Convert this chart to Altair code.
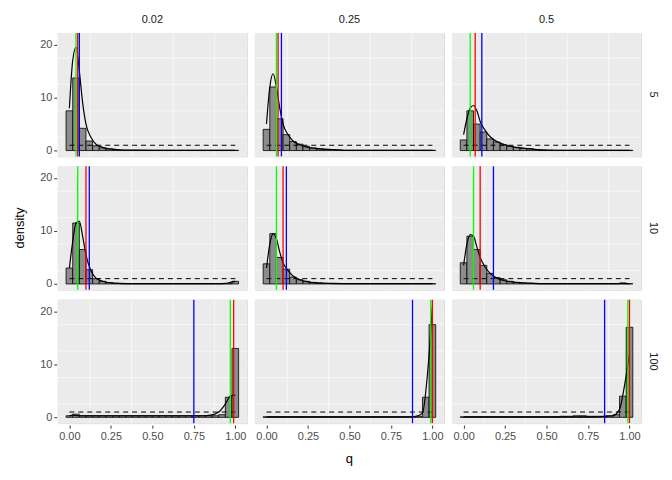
import altair as alt
import pandas as pd

cols = [0.02, 0.25, 0.5]
rows = [5, 10, 100]
centers = [round(i * 0.04, 2) for i in range(26)]
t = [0.05] * 18
bars = {
    (0.02, 5): [7.5, 13.7, 4.2, 1.8, 0.9, 0.5, 0.3, 0.15] + t,
    (0.25, 5): [4, 12, 6, 3, 1.7, 1.2, 0.8, 0.5, 0.3, 0.2, 0.15, 0.1] + [0.05] * 14,
    (0.5, 5): [2, 7.5, 5, 3.5, 2.2, 1.6, 1.1, 0.8, 0.6, 0.4, 0.3, 0.2, 0.15, 0.1] + [0.05] * 12,
    (0.02, 10): [3, 11.5, 6.5, 2.7, 1.0, 0.5, 0.25, 0.1] + [0.05] * 17 + [0.5],
    (0.25, 10): [3.8, 9.5, 5, 2.8, 1.3, 0.8, 0.5, 0.3, 0.2, 0.1] + [0.05] * 16,
    (0.5, 10): [4, 9, 6.5, 3.5, 2, 1.2, 0.8, 0.5, 0.3, 0.2, 0.1] + [0.05] * 13 + [0.2, 0.05],
    (0.02, 100): [0.3, 0.6] + [0.3] * 21 + [0.5, 3.8, 13],
    (0.25, 100): [0.1] * 23 + [0.2, 3.8, 17.5],
    (0.5, 100): [0.1] * 15 + [0.2, 0.2, 0.3, 0.3, 0.2, 0.2, 0.2, 0.3, 0.5, 4, 17],
}
dx = [0, 0.02, 0.04, 0.06, 0.08, 0.1, 0.13, 0.16, 0.2, 0.25, 0.3, 0.4, 0.5, 0.6, 0.7, 0.8, 0.85, 0.9, 0.94, 0.97, 1.0]
s = [0.05] * 9
dens = {
    (0.02, 5): [8, 17, 19.5, 15, 9, 5, 2.5, 1.2, 0.6, 0.3, 0.15, 0.08] + s,
    (0.25, 5): [5, 12, 14.5, 12, 8, 5, 3, 1.8, 1.1, 0.6, 0.4, 0.2] + s,
    (0.5, 5): [3, 6, 8, 8.5, 7.5, 5.5, 3.8, 2.6, 1.7, 1.1, 0.7, 0.35] + s,
    (0.02, 10): [3, 8, 11.5, 11.8, 9, 5.5, 2.5, 1.1, 0.5, 0.2, 0.1, 0.05, 0.05, 0.05, 0.05, 0.05, 0.05, 0.05, 0.1, 0.3, 0.5],
    (0.25, 10): [3, 7.5, 9.5, 8.5, 6, 4, 2.5, 1.5, 0.8, 0.4, 0.2, 0.1] + s,
    (0.5, 10): [3.5, 7.5, 9.3, 9, 7, 5, 3.2, 2, 1.1, 0.6, 0.35, 0.15] + s,
    (0.02, 100): [0.3, 0.4, 0.35] + [0.3] * 13 + [0.4, 1.0, 2.5, 4.0, 4.2],
    (0.25, 100): [0.1] * 17 + [0.2, 0.8, 8, 21],
    (0.5, 100): [0.1] * 16 + [0.2, 0.3, 1.5, 6, 12],
}
vl = {
    (0.02, 5): [0.04, 0.05, 0.06], (0.25, 5): [0.06, 0.07, 0.09], (0.5, 5): [0.04, 0.07, 0.11],
    (0.02, 10): [0.05, 0.10, 0.12], (0.25, 10): [0.06, 0.10, 0.12], (0.5, 10): [0.06, 0.10, 0.18],
    (0.02, 100): [0.97, 0.99, 0.75], (0.25, 100): [0.99, 1.0, 0.88], (0.5, 100): [0.99, 1.0, 0.85],
}
vcolors = ["green", "red", "blue"]

W, H = 190, 124
recs = []
for c in cols:
    for r in rows:
        k = (c, r)
        recs.append(dict(c=c, r=r, kind="bg"))
        for cx, h in zip(centers, bars[k]):
            recs.append(dict(c=c, r=r, kind="bar", x=cx - 0.02, x2=cx + 0.02, y=h))
        for x, y in zip(dx, dens[k]):
            recs.append(dict(c=c, r=r, kind="dens", x=x, y=y))
        for x in [0, 1]:
            recs.append(dict(c=c, r=r, kind="unif", x=x, y=1))
        for x, col in zip(vl[k], vcolors):
            recs.append(dict(c=c, r=r, kind="v", x=x, col=col))
        for g in [0.125, 0.375, 0.625, 0.875]:
            recs.append(dict(c=c, r=r, kind="gx", x=g))
        for g in [2.5, 7.5, 12.5, 17.5]:
            recs.append(dict(c=c, r=r, kind="gy", y=g))
df = pd.DataFrame(recs)

X = alt.Scale(domain=[-0.07, 1.07], nice=False)
Y = alt.Scale(domain=[-1.1, 22.2], nice=False)
xax = alt.Axis(values=[0, 0.25, 0.5, 0.75, 1], format=".2f", title=None, gridColor="white", gridWidth=1.2,
               domain=False, tickColor="#333", labelColor="#4d4d4d", labelFontSize=11, tickSize=3)
yax = alt.Axis(values=[0, 5, 10, 15, 20], title=None, gridColor="white", gridWidth=1.2,
               domain=False, tickColor="#333", labelColor="#4d4d4d", labelFontSize=11, tickSize=3)

bg = alt.Chart().mark_rect(fill="#EBEBEB").encode(
    x=alt.value(0), x2=alt.value(W), y=alt.value(0), y2=alt.value(H)).transform_filter("datum.kind=='bg'")
gx = alt.Chart().mark_rule(color="white", strokeWidth=0.6).encode(
    x=alt.X("x:Q", scale=X, axis=xax)).transform_filter("datum.kind=='gx'")
gy = alt.Chart().mark_rule(color="white", strokeWidth=0.6).encode(
    y=alt.Y("y:Q", scale=Y, axis=yax)).transform_filter("datum.kind=='gy'")
bar = alt.Chart().mark_rect(fill="#8c8c8c", stroke="black", strokeWidth=0.8).encode(
    x=alt.X("x:Q", scale=X, axis=xax), x2="x2:Q", y=alt.Y("y:Q", scale=Y, axis=yax), y2=alt.datum(0)
).transform_filter("datum.kind=='bar'")
den = alt.Chart().mark_line(color="black", interpolate="monotone", strokeWidth=1.2).encode(
    x=alt.X("x:Q", scale=X), y=alt.Y("y:Q", scale=Y)).transform_filter("datum.kind=='dens'")
uni = alt.Chart().mark_line(color="black", strokeDash=[5, 4], strokeWidth=1).encode(
    x=alt.X("x:Q", scale=X), y=alt.Y("y:Q", scale=Y)).transform_filter("datum.kind=='unif'")
vr = alt.Chart().mark_rule(strokeWidth=1.3).encode(
    x=alt.X("x:Q", scale=X),
    color=alt.Color("col:N", scale=alt.Scale(domain=vcolors, range=["#00FF00", "#FF0000", "#0000FF"]), legend=None)
).transform_filter("datum.kind=='v'")

chart = alt.layer(bg, gx, gy, bar, den, uni, vr, data=df).properties(width=W, height=H).facet(
    column=alt.Column("c:O", title="q", header=alt.Header(titleOrient="bottom", labelOrient="top",
                      labelFontSize=11, titleFontSize=13, titleFontWeight="normal", labelColor="#1a1a1a",
                      titlePadding=2, labelPadding=6)),
    row=alt.Row("r:O", title="density", header=alt.Header(titleOrient="left", labelOrient="right",
                labelAngle=90, labelFontSize=11, titleFontSize=13, titleFontWeight="normal", labelColor="#1a1a1a",
                titlePadding=2, labelPadding=6)),
    spacing=6,
).configure_view(stroke="transparent").configure(font="Liberation Sans")

chart.save("out.html", embed_options={"renderer": "svg", "actions": False})
